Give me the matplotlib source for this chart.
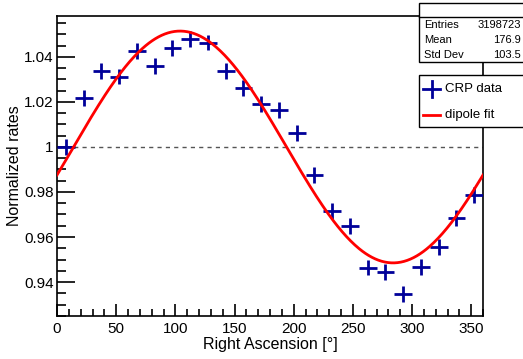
import numpy as np
import matplotlib
matplotlib.use("Agg")
import matplotlib.pyplot as plt
from matplotlib.patches import Rectangle
from matplotlib.lines import Line2D

plt.rcParams['font.family'] = ['Liberation Sans', 'DejaVu Sans']

# Data
ra_centers = [7.5, 22.5, 37.5, 52.5, 67.5, 82.5, 97.5, 112.5, 127.5, 142.5, 157.5, 172.5,
              187.5, 202.5, 217.5, 232.5, 247.5, 262.5, 277.5, 292.5, 307.5, 322.5, 337.5, 352.5]
rates = [1.0000, 1.0216, 1.0338, 1.0313, 1.0428, 1.0361, 1.0439, 1.0480, 1.0464, 1.0339, 1.0261, 1.0192,
         1.0164, 1.0062, 0.9876, 0.9716, 0.9650, 0.9464, 0.9446, 0.9347, 0.9468, 0.9557, 0.9686, 0.9787]
ra_err = [7.5] * 24
rate_err = [0.0035] * 24

# dipole fit parameters
fit_offset = 1.0
fit_amp = 0.0515
fit_phase = 104.0

stats_labels = ["Entries", "Mean", "Std Dev"]
stats_values = ["3198723", "176.9", "103.5"]

W, H = 523, 359
fig = plt.figure(figsize=(W / 100, H / 100), dpi=100)
ax = fig.add_axes([57 / W, 1 - 316 / H, (483 - 57) / W, (316 - 16) / H])

navy = '#000099'
ax.errorbar(ra_centers, rates, xerr=ra_err, yerr=rate_err, fmt='none', ecolor=navy,
            elinewidth=2.0, capsize=0, zorder=3)

xf = np.linspace(0, 360, 400)
ax.plot(xf, fit_offset + fit_amp * np.cos(np.radians(xf - fit_phase)), color='#ff0000', lw=2.0, zorder=4)

ax.axhline(1.0, color='#555555', lw=1.0, ls=(0, (3, 3)), zorder=2)

ax.set_xlim(0, 360)
ax.set_ylim(0.9249, 1.0582)
ax.set_xticks([0, 50, 100, 150, 200, 250, 300, 350])
ax.set_xticks(np.arange(0, 361, 10), minor=True)
ax.set_yticks([0.94, 0.96, 0.98, 1.0, 1.02, 1.04])
ax.set_yticklabels(["0.94", "0.96", "0.98", "1", "1.02", "1.04"])
ax.set_yticks(np.arange(0.925, 1.058, 0.005), minor=True)
ax.tick_params(axis='both', which='both', direction='in', top=False, right=False,
               labelsize=11, colors='black', width=1.2)
ax.tick_params(axis='y', which='major', length=13, pad=2.5)
ax.tick_params(axis='y', which='minor', length=6.5)
ax.tick_params(axis='x', which='major', length=9, pad=4)
ax.tick_params(axis='x', which='minor', length=5)
for s in ax.spines.values():
    s.set_linewidth(1.2)

ax.set_xlabel("Right Ascension [°]", fontsize=11.5, loc='center', labelpad=1)
ax.set_ylabel("Normalized rates", fontsize=11.5, loc='center')
ax.yaxis.set_label_coords(-(57 - 15) / (483 - 57), 0.5)
ax.yaxis.label.set_va('center')

# Stats box
def px(x, y):
    return x / W, 1 - y / H

lw = 1.0
x0, y0 = px(419, 62)
fig.add_artist(Rectangle((x0, y0), (W + 5 - 419) / W, (62 - 3) / H, transform=fig.transFigure,
                         facecolor='white', edgecolor='black', lw=lw, zorder=10))
fig.add_artist(Line2D([419 / W, 1.0], [1 - 17 / H, 1 - 17 / H], transform=fig.transFigure,
                      color='black', lw=lw, zorder=11))
for i, (lab, val) in enumerate(zip(stats_labels, stats_values)):
    yy = 25 + 15 * i
    fig.text(424 / W, 1 - yy / H, lab, fontsize=8, va='center', ha='left', zorder=12)
    fig.text(521 / W, 1 - yy / H, val, fontsize=8, va='center', ha='right', zorder=12)

# Legend box
x0, y0 = px(419, 127)
fig.add_artist(Rectangle((x0, y0), (W + 5 - 419) / W, (127 - 75) / H, transform=fig.transFigure,
                         facecolor='white', edgecolor='black', lw=lw, zorder=10))
fig.add_artist(Line2D([423 / W, 440 / W], [1 - 89 / H] * 2, transform=fig.transFigure,
                      color=navy, lw=2.0, zorder=12))
fig.add_artist(Line2D([431.5 / W] * 2, [1 - 81 / H, 1 - 97 / H], transform=fig.transFigure,
                      color=navy, lw=2.0, zorder=12))
fig.text(445 / W, 1 - 89 / H, "CRP data", fontsize=9.5, va='center', ha='left', zorder=12)
fig.add_artist(Line2D([423 / W, 440 / W], [1 - 115 / H] * 2, transform=fig.transFigure,
                      color='#ff0000', lw=2.0, zorder=12))
fig.text(445 / W, 1 - 115 / H, "dipole fit", fontsize=9.5, va='center', ha='left', zorder=12)

fig.savefig("out.png", dpi=100)
